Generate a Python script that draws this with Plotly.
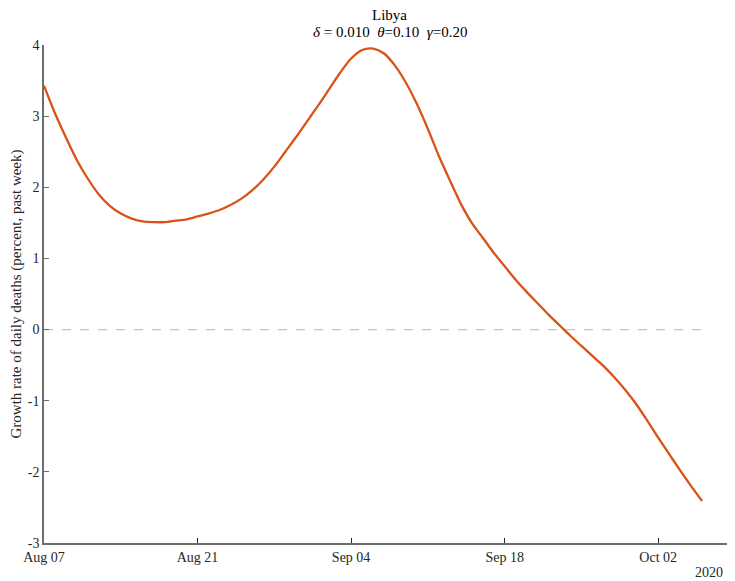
import pandas as pd
import plotly.graph_objects as go

start_date = "2020-08-07"
growth = [3.43, 3.04, 2.70, 2.38, 2.12, 1.90, 1.74, 1.63, 1.56, 1.52,
          1.51, 1.51, 1.53, 1.55, 1.59, 1.63, 1.68, 1.75, 1.84, 1.96,
          2.11, 2.29, 2.50, 2.71, 2.93, 3.15, 3.38, 3.61, 3.81, 3.93,
          3.95, 3.88, 3.71, 3.47, 3.17, 2.82, 2.44, 2.10, 1.77, 1.50,
          1.29, 1.08, 0.89, 0.70, 0.53, 0.37, 0.21, 0.06, -0.09, -0.23,
          -0.37, -0.51, -0.67, -0.85, -1.05, -1.28, -1.52, -1.75, -1.98, -2.20,
          -2.41]
dates = pd.date_range(start_date, periods=len(growth), freq="D")
tick_vals = ["2020-08-07", "2020-08-21", "2020-09-04", "2020-09-18", "2020-10-02"]
tick_text = ["Aug 07", "Aug 21", "Sep 04", "Sep 18", "Oct 02"]
y_ticks = [-3, -2, -1, 0, 1, 2, 3, 4]
y_tick_text = ["-3", "-2", "-1", "0", "1", "2", "3", "4"]
title_text = "Libya"
subtitle_text = "<i>δ</i> = 0.010  <i>θ</i>=0.10  <i>γ</i>=0.20"
ylabel = "Growth rate of daily deaths (percent, past week)"

font_family = "Liberation Serif, Times New Roman, serif"
axis_color = "#6e6e6e"
text_color = "#262626"

fig = go.Figure()
fig.add_trace(go.Scatter(x=dates, y=[0] * len(dates), mode="lines",
                         line=dict(color="#c4c4c4", width=1.3, dash="dash"),
                         hoverinfo="skip", showlegend=False))
fig.add_trace(go.Scatter(x=dates, y=growth, mode="lines",
                         line=dict(color="#D95319", width=2.3,
                                   shape="spline", smoothing=0.8),
                         showlegend=False))

fig.update_layout(
    width=735, height=581,
    margin=dict(l=36, r=8, t=37, b=46, autoexpand=False),
    paper_bgcolor="white", plot_bgcolor="white",
    font=dict(family=font_family, size=14, color=text_color),
    xaxis=dict(
        range=["2020-08-07", "2020-10-09"],
        tickmode="array", tickvals=tick_vals, ticktext=tick_text,
        ticks="inside", ticklen=5, tickcolor=text_color, tickwidth=1,
        showline=True, linecolor=axis_color, linewidth=1.5,
        showgrid=False, zeroline=False, automargin=False,
        tickfont=dict(family=font_family, size=14, color=text_color),
    ),
    yaxis=dict(
        range=[-3, 4],
        tickmode="array", tickvals=y_ticks, ticktext=y_tick_text,
        ticks="inside", ticklen=5, tickcolor=axis_color, tickwidth=1,
        showline=True, linecolor=axis_color, linewidth=1.5,
        showgrid=False, zeroline=False, automargin=False,
        tickfont=dict(family=font_family, size=14, color=text_color),
        title=dict(text=ylabel, standoff=14,
                   font=dict(family=font_family, size=15, color=text_color)),
    ),
    annotations=[
        dict(text=title_text, xref="paper", yref="paper", x=0.5, y=1.0,
             yshift=30, showarrow=False, xanchor="center", yanchor="middle",
             font=dict(family=font_family, size=15, color="#000000")),
        dict(text=subtitle_text, xref="paper", yref="paper", x=0.5, y=1.0,
             yshift=13, showarrow=False, xanchor="center", yanchor="middle",
             font=dict(family=font_family, size=15, color="#000000")),
        dict(text="2020", xref="paper", yref="paper", x=1.0, y=0,
             xshift=-26, yshift=-29, showarrow=False, xanchor="center",
             yanchor="middle",
             font=dict(family=font_family, size=14, color=text_color)),
    ],
)

fig.write_html("out.html")
